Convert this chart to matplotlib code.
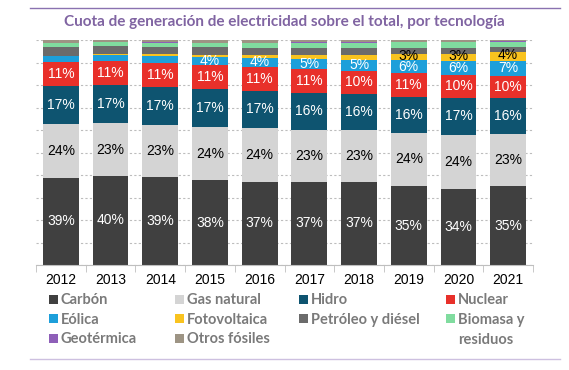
import matplotlib.pyplot as plt
import numpy as np
from matplotlib.patches import Patch
from matplotlib.lines import Line2D

years = ["2012", "2013", "2014", "2015", "2016", "2017", "2018", "2019", "2020", "2021"]

# shares in %
carbon = [38.8, 39.7, 38.9, 37.6, 36.9, 36.9, 36.9, 35.1, 33.8, 35.1]
gas = [24.0, 23.2, 23.3, 23.8, 24.0, 23.3, 23.2, 23.6, 24.0, 23.1]
hidro = [16.7, 17.0, 16.8, 16.7, 16.6, 16.3, 16.0, 16.1, 16.6, 15.9]
nuclear = [10.9, 10.7, 10.9, 10.6, 10.6, 10.6, 10.2, 10.6, 10.2, 10.1]
eolica = [2.3, 2.7, 2.9, 3.6, 3.9, 4.6, 5.0, 5.5, 6.1, 6.6]
solar = [0.2, 0.5, 0.8, 1.0, 1.3, 1.7, 2.1, 2.7, 3.2, 3.7]
petroleo = [4.0, 3.6, 3.5, 3.4, 3.2, 3.0, 3.0, 2.9, 2.7, 2.4]
biomasa = [1.6, 1.6, 1.7, 1.8, 2.0, 2.2, 2.3, 2.4, 2.4, 2.3]
geotermica = [0.3, 0.3, 0.3, 0.3, 0.3, 0.3, 0.3, 0.3, 0.3, 0.3]
otros = [1.2, 0.7, 0.9, 1.2, 1.2, 1.1, 1.0, 0.8, 0.7, 0.5]

series = [
    ("Carbón", carbon, "#404040", "white", 0),
    ("Gas natural", gas, "#d4d4d4", "black", 0),
    ("Hidro", hidro, "#0e5470", "white", 0),
    ("Nuclear", nuclear, "#e8302a", "white", 0),
    ("Eólica", eolica, "#1d9fda", "white", 3.5),
    ("Fotovoltaica", solar, "#f9c31f", "black", 2.5),
    ("Petróleo y diésel", petroleo, "#6b6b6b", None, 99),
    ("Biomasa y", biomasa, "#80dc9f", None, 99),
    ("Geotérmica", geotermica, "#8e5fb8", None, 99),
    ("Otros fósiles", otros, "#9d9484", None, 99),
]

fig = plt.figure(figsize=(5.69, 3.70), dpi=100)
ax = fig.add_axes([36 / 569, 105 / 370, 497 / 569, 225 / 370])

x = np.arange(len(years))
bottom = np.zeros(len(years))
for name, vals, color, txt_color, min_label in series:
    vals = np.array(vals)
    ax.bar(x, vals, 0.72, bottom=bottom, color=color, zorder=2)
    if txt_color is not None:
        for xi, b, v in zip(x, bottom, vals):
            if v >= min_label:
                # the small solar labels sit a bit higher, as in the source
                yy = b + v / 2 + (0.6 if v < 5 and txt_color == "black" else 0)
                ax.text(xi, yy, f"{round(v)}%", ha="center", va="center",
                        color=txt_color, fontsize=10, family="Liberation Sans", zorder=3)
    bottom += vals

ax.set_xlim(-0.5, len(years) - 0.5)
ax.set_ylim(0, 100)
ax.set_yticks(np.arange(0, 101, 10))
ax.yaxis.grid(True, linestyle=(0, (2, 2)), color="#bdbdbd", linewidth=0.8, zorder=0)
ax.tick_params(axis="y", length=0, labelleft=False)
for s in ["left", "right", "top"]:
    ax.spines[s].set_visible(False)
ax.spines["bottom"].set_color("#bfbfbf")
ax.set_xticks(x)
ax.set_xticklabels(years, fontsize=10, family="Liberation Sans")
ax.set_xticks(np.arange(-0.5, len(years)), minor=True)
ax.tick_params(axis="x", which="major", length=0, pad=6)
ax.tick_params(axis="x", which="minor", length=5, color="#bfbfbf")

# legend as four columns
legend_font = {"family": "Lato", "weight": "bold", "size": 10.5}
legend_cols = [[0, 4, 8], [1, 5, 9], [2, 6], [3, 7]]
col_x = [42, 168, 292, 439]
legends = []
for col, cx in zip(legend_cols, col_x):
    handles = [Patch(facecolor=series[i][2]) for i in col]
    labels = [series[i][0] for i in col]
    leg = fig.legend(handles, labels, loc="upper left", bbox_to_anchor=(cx / 569, 1 - 286 / 370),
                     frameon=False, handlelength=0.6, handleheight=0.6, handletextpad=0.2,
                     labelspacing=0.38, borderpad=0, prop=legend_font)
    for t in leg.get_texts():
        t.set_color("#7a7a7a")
    legends.append(leg)

# second line of "Biomasa y residuos", under the legend entry
fig.canvas.draw()
bio = legends[3].get_texts()[1].get_window_extent()
fig.text(bio.x0 / 569, (bio.y0 - 20) / 370, "residuos", ha="left", va="bottom",
         color="#7a7a7a", **legend_font)

fig.text(284 / 569, 1 - 22 / 370, "Cuota de generación de electricidad sobre el total, por tecnología",
         ha="center", va="center", color="#8064a2", fontsize=11, family="Lato", weight="bold")
fig.add_artist(Line2D([30 / 569, 560 / 569], [1 - 8 / 370, 1 - 8 / 370], color="#8a72b0", linewidth=1))
fig.add_artist(Line2D([30 / 569, 560 / 569], [1 - 359 / 370, 1 - 359 / 370], color="#cdc0e0", linewidth=1))

fig.savefig("out.png", dpi=100)
